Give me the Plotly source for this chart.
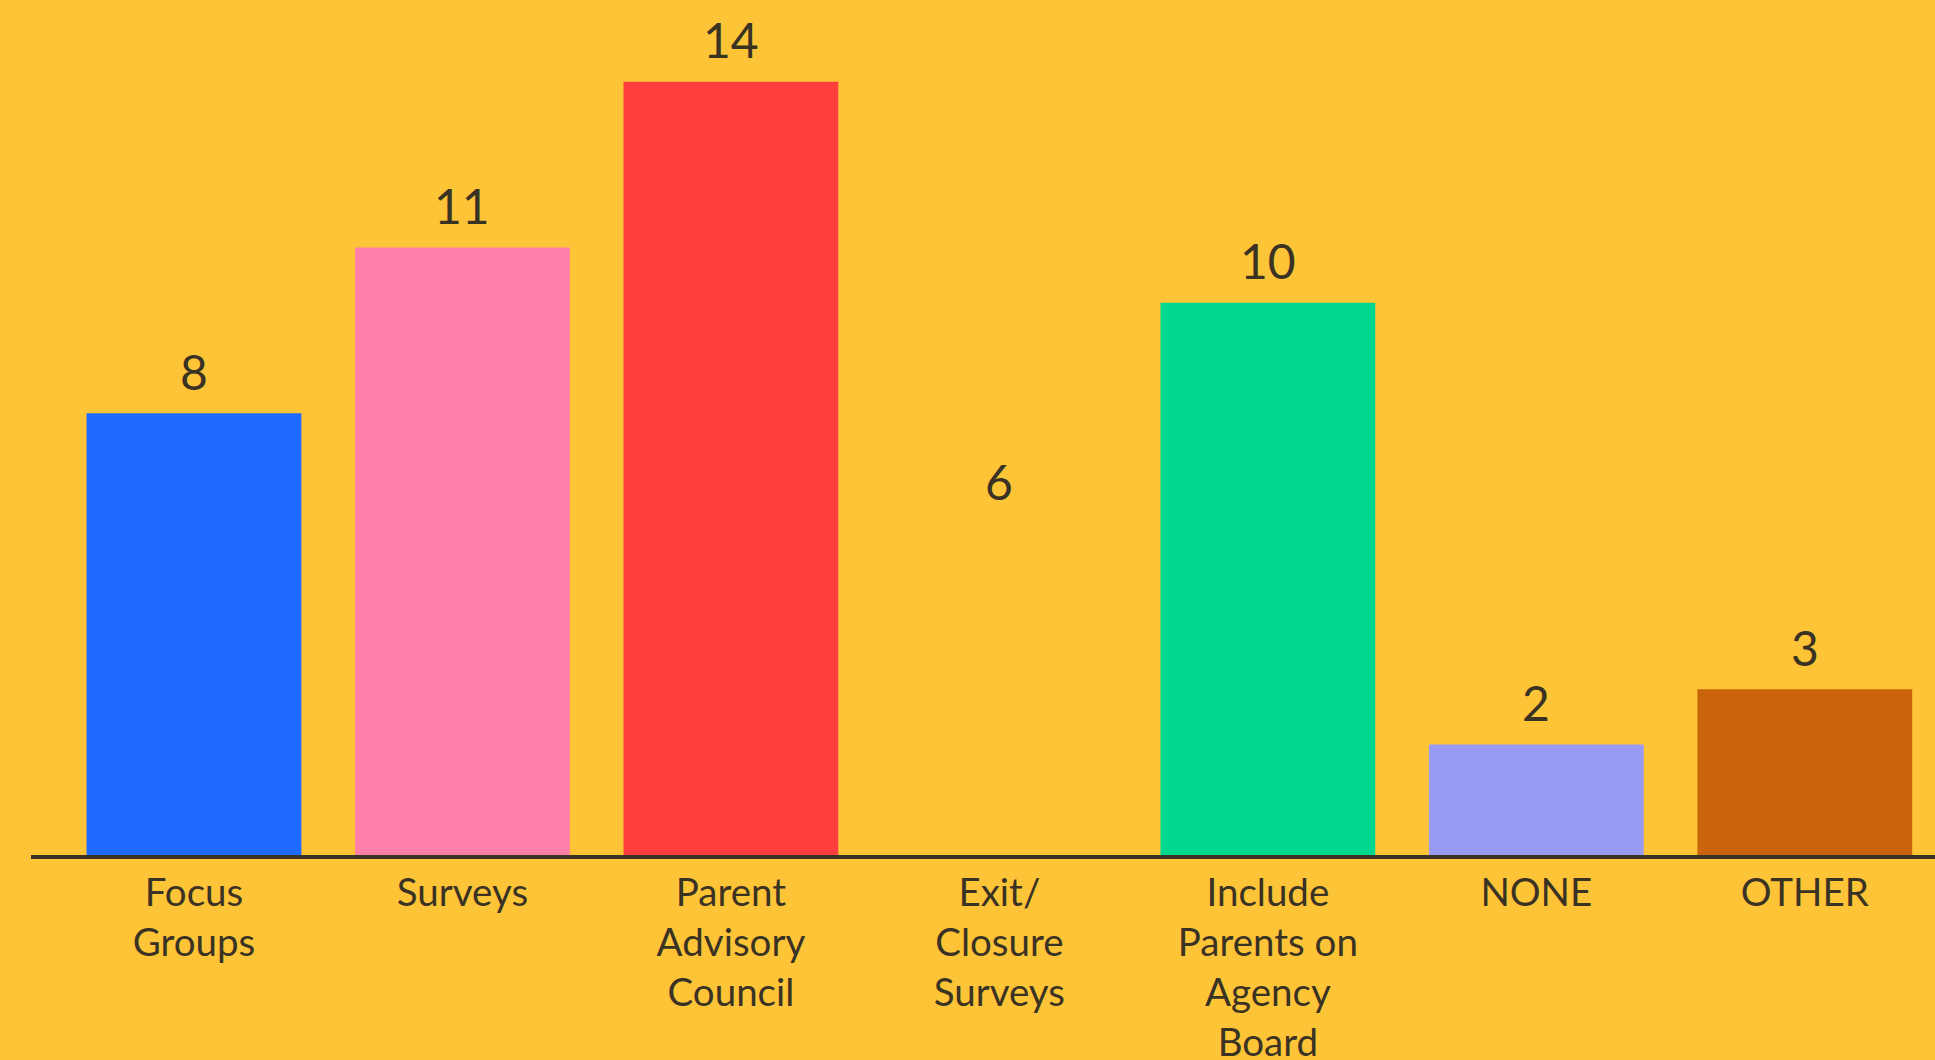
import plotly.graph_objects as go

categories = ["Focus<br>Groups", "Surveys", "Parent<br>Advisory<br>Council",
              "Exit/<br>Closure<br>Surveys", "Include<br>Parents on<br>Agency<br>Board",
              "NONE", "OTHER"]
values = [8, 11, 14, 6, 10, 2, 3]
BG = "#FEC438"
bar_colors = ["#1F6BFF", "#FF7FA8", "#FF3F3E", BG, "#00D78F", "#989AF4", "#C9640D"]
TXT = "#3a3324"
FONT = "Lato, Open Sans, sans-serif"

fig = go.Figure(go.Bar(
    x=categories, y=values,
    marker=dict(color=bar_colors, line=dict(width=0)),
    hoverinfo="x+y",
))

for c, v in zip(categories, values):
    fig.add_annotation(
        x=c, y=v, text=str(v), showarrow=False,
        xanchor="center", yanchor="middle", yshift=42,
        font=dict(family=FONT, size=48, color=TXT),
    )

fig.update_layout(
    width=1935, height=1060,
    paper_bgcolor=BG, plot_bgcolor=BG,
    margin=dict(l=31, r=0, t=10, b=205, autoexpand=False),
    bargap=0.2,
    showlegend=False,
    xaxis=dict(
        range=[-0.607, 6.485],
        automargin=False,
        showline=True, linecolor=TXT, linewidth=4,
        showgrid=False, zeroline=False,
        ticks="", ticklabelstandoff=1,
        tickfont=dict(family=FONT, size=38.5, color=TXT),
        tickangle=0,
    ),
    yaxis=dict(range=[0, 15.3], visible=False, showgrid=False, zeroline=False,
               automargin=False),
)

fig.write_html(
    "out.html",
    config={"displayModeBar": False},
    post_script="document.body.style.margin='0';document.body.style.background='" + BG + "';",
)
